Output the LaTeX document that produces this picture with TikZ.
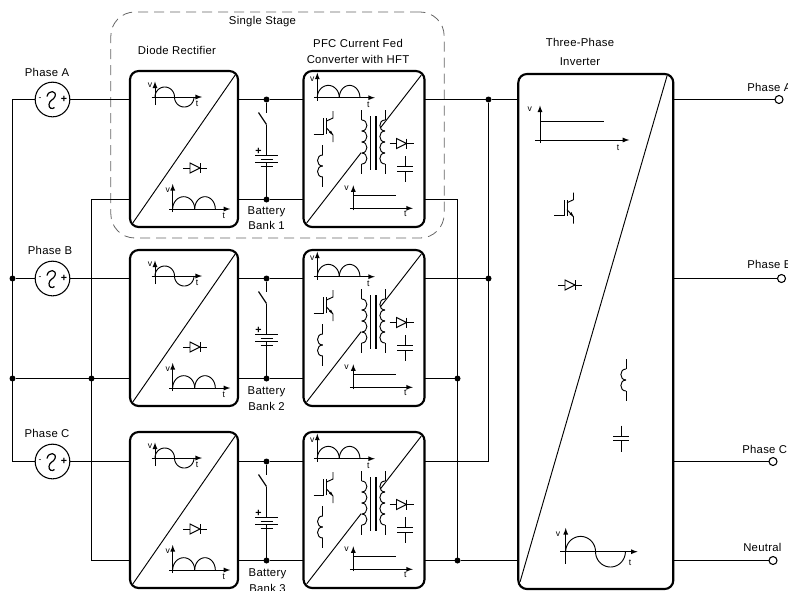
\documentclass[tikz,border=0pt]{standalone}
\usepackage{fontspec}
\setmainfont[LetterSpace=2.5]{Liberation Sans}
\tikzset{
    wire/.style={line width=0.9pt},
    sym/.style={line width=0.7pt},
    blockbox/.style={draw, line width=1.6pt, rounded corners=6.5pt, inner sep=0pt, outer sep=0pt, minimum width=81pt, minimum height=117pt},
    srcbox/.style={draw, circle, line width=0.8pt, inner sep=0pt, outer sep=0pt, minimum size=26pt},
    wiredot/.style={fill, circle, inner sep=0pt, outer sep=0pt, minimum size=4.5pt},
    termbox/.style={draw, circle, fill=white, line width=0.8pt, inner sep=0pt, outer sep=0pt, minimum size=6pt},
    stagebox/.style={draw=black!60, dashed, dash pattern=on 7.5pt off 4.5pt, line width=0.6pt, rounded corners=18pt, inner sep=0pt, minimum width=250pt, minimum height=169.5pt},
    lbl/.style={font=\fontsize{8.5}{11.6}\selectfont, inner sep=0pt, align=center},
    tiny/.style={font=\fontsize{6.5}{8}\selectfont, inner sep=0pt},
}
\newcommand{\pfcDiode}[2]{%
    \begin{scope}[shift={(#1,{#2})}, sym]
        \draw (-12,0) -- (12,0);
        \draw[fill=white] (-5,-5) -- (5,0) -- (-5,5) -- cycle;
        \draw (5,-5) -- (5,5);
    \end{scope}
}
\newcommand{\pfcCap}[2]{%
    \begin{scope}[shift={(#1,{#2})}, sym]
        \draw (0,-13) -- (0,-2.3);
        \draw (0,2.3) -- (0,13);
        \draw (-8,-2.3) -- (8,-2.3);
        \draw (-8,2.3) -- (8,2.3);
    \end{scope}
}
\newcommand{\pfcCoil}[4]{%
    \begin{scope}[shift={(#1,{#2})}, sym]
        \draw (0,-10) -- (0,0);
        \foreach \k in {1,...,#3} {
            \draw (0,{(\k-1)*11}) to[out=#4,in=#4,looseness=1.6] (0,{\k*11});
        }
        \draw (0,{#3*11}) -- (0,{#3*11+10});
    \end{scope}
}
\newcommand{\pfcIgbt}[2]{%
    \begin{scope}[shift={(#1,{#2})}, sym]
        \draw (-10,0) -- (0,0) -- (0,-16);
        \draw (3,0) -- (3,-16);
        \draw (3,-13) -- (9.5,-16) -- (9.5,-23);
        \draw (3,-6) -- (9.5,1) -- (9.5,8);
        \fill (9.5,1) -- (5.5,-1.5) -- (7.5,-3.5) -- cycle;
    \end{scope}
}
\newcommand{\pfcSinePlot}[3]{%
    \begin{scope}[shift={(#1,{#2})}, scale=#3, sym]
        \draw[-latex] (0,8) -- (0,-15.5);
        \draw[-latex] (-3.5,0) -- (47,0);
        \draw plot[domain=180:0, samples=31] ({9.75*(1+cos(\x))},{-10*sin(\x)});
        \draw plot[domain=180:0, samples=31] ({19.5+9.75*(1+cos(\x))},{10*sin(\x)});
        \node[tiny] (sv) at (-5,-11.5) {v};
        \node[tiny] (st) at (42,7) {t};
    \end{scope}
}
\newcommand{\pfcHumpPlot}[2]{%
    \begin{scope}[shift={(#1,{#2})}, sym]
        \draw[-latex] (0,3) -- (0,-25);
        \draw[-latex] (-3.5,0) -- (57.5,0);
        \draw plot[domain=180:0, samples=31] ({11*(1+cos(\x))},{-12.3*sin(\x)});
        \draw plot[domain=180:0, samples=31] ({22+10.3*(1+cos(\x))},{-12.3*sin(\x)});
        \node[tiny] (hv) at (-5,-18.5) {v};
        \node[tiny] (ht) at (51,7) {t};
    \end{scope}
}
\newcommand{\pfcDcPlot}[3]{%
    \begin{scope}[shift={(#1,{#2})}, scale=#3, sym]
        \draw[-latex] (0,2) -- (0,-23);
        \draw[-latex] (-3.5,0) -- (59.5,0);
        \draw (0,-12.5) -- (42.5,-12.5);
        \node[tiny] (dv) at (-6.8,-20.4) {v};
        \node[tiny] (dt) at (52,5) {t};
    \end{scope}
}
\newcommand{\pfcBattery}[2]{%
    \begin{scope}[shift={(#1,{#2})}, wire]
        \draw (-8,13) -- (0,25);
        \draw (-11.5,56) -- (11.5,56);
        \draw (-6,60) -- (6,60);
        \draw (-11.5,63) -- (11.5,63);
        \draw (-6,67) -- (6,67);
        \node[font=\fontsize{8}{8}\bfseries\selectfont, inner sep=0pt] (bplus) at (-8,51.5) {+};
    \end{scope}
}
\newcommand{\pfcAcWave}[2]{%
    \begin{scope}[shift={(#1,{#2})}, wire]
        \draw (-5.5,-3) .. controls (-4,-10) and (4.5,-9) .. (2.5,-3) .. controls (1,1) and (-3,0) .. (-3.5,5) .. controls (-4,9) and (0,10) .. (2,8);
        \node[tiny] (am) at (-12.5,0) {-};
        \node[font=\fontsize{8}{8}\bfseries\selectfont, inner sep=0pt] (ap) at (11.5,0) {+};
    \end{scope}
}
\begin{document}
\begin{tikzpicture}[x=0.75pt, y=-0.75pt]
    \clip (0,0) rectangle (788,590);
    \node[stagebox] (stage) at (277.5,125) {};
    \node[lbl] (stagelbl) at (262.5,22) {Single Stage};
    \node[lbl] (diodelbl) at (177,50.5) {Diode Rectifier};
    \node[lbl] (pfclbl) at (358,51.5) {PFC Current Fed\\Converter with HFT};
    \node[lbl] (invlbl) at (580,52) {Three-Phase\\[2pt]Inverter};
    \node[blockbox, minimum width=116.25pt, minimum height=386.25pt] (invert) at (595.8,331.5) {};

    % one row for each phase
    \foreach \ph/\ty/\uy/\dy/\lx/\ly/\bn in {A/71/99.5/199.5/266.5/218/1, B/250/278.5/378.5/266.5/398.5/2, C/432/461.5/560.5/267.5/580.5/3} {
        \node[srcbox] (src\ph) at (52.5,\uy) {};
        \node[blockbox] (rec\ph) at (184,{\ty+78}) {};
        \node[blockbox, minimum width=90.75pt] (pfc\ph) at (364,{\ty+78}) {};
        \node[wiredot] (up\ph) at (266.5,\uy) {};
        \node[wiredot] (dn\ph) at (266.5,\dy) {};
        \node[lbl] (bat\ph) at (\lx,\ly) {Battery\\Bank \bn};
        \draw[wire] (src\ph.east) -- (rec\ph.west |- src\ph.east);
        \draw[wire] (rec\ph.east |- up\ph) -- (up\ph) -- (pfc\ph.west |- up\ph);
        \draw[wire] (rec\ph.east |- dn\ph) -- (dn\ph) -- (pfc\ph.west |- dn\ph);
        \draw[wire] (up\ph) -- ++(0,13);
        \draw[wire] (up\ph) ++(0,25) -- ++(0,31);
        \draw[wire] (up\ph) ++(0,63) -- (dn\ph);
        \pfcAcWave{52.5}{\uy}
        \pfcBattery{266.5}{\uy}
        \draw[sym, shorten <=4pt, shorten >=4pt] (rec\ph.south west) -- (rec\ph.north east);
        \draw[sym, shorten <=4pt, shorten >=4pt] (pfc\ph.south west) -- (pfc\ph.north east);
        \pfcSinePlot{155}{\ty+26}{1}
        \pfcDiode{195}{\ty+97}
        \pfcHumpPlot{172.7}{\ty+138}
        \pfcHumpPlot{317.3}{\ty+26.7}
        \pfcIgbt{323.5}{\ty+63}
        \pfcCoil{322.7}{\ty+84}{2}{180}
        \fill[white] (361,\ty+57) rectangle (385,\ty+82);
        \pfcCoil{361.7}{\ty+49}{4}{0}
        \pfcCoil{385}{\ty+49}{4}{180}
        \draw[wire] (370.7,\ty+45) -- (370.7,\ty+99);
        \draw[wire] (376,\ty+45) -- (376,\ty+99);
        \pfcDiode{401.5}{\ty+72.5}
        \pfcCap{405}{\ty+98}
        \pfcDcPlot{353.3}{\ty+137.3}{1}
    }

    % rails on the left
    \node[wiredot] (railB) at (12.5,278.5) {};
    \node[wiredot] (railN) at (12.5,378.5) {};
    \node[wiredot] (midN) at (91.5,378.5) {};
    \draw[wire] (srcA.west) -- (srcA.west -| railB) -- (srcC.west -| railB) -- (srcC.west);
    \draw[wire] (srcB.west) -- (railB);
    \draw[wire] (railN) -- (recB.west |- railN);
    \draw[wire] (recA.west |- dnA) -- (dnA -| midN) -- (dnC -| midN) -- (recC.west |- dnC);

    % rails on the right
    \node[wiredot] (busA) at (488.5,99.5) {};
    \node[wiredot] (busB) at (488.5,278.5) {};
    \node[wiredot] (negB) at (457.5,378.5) {};
    \node[wiredot] (negC) at (457.5,560.5) {};
    \draw[wire] (pfcA.east |- upA) -- (busA) -- (invert.west |- upA);
    \draw[wire] (busA) -- (busB |- upC) -- (pfcC.east |- upC);
    \draw[wire] (pfcB.east |- upB) -- (busB);
    \draw[wire] (pfcA.east |- dnA) -- (dnA -| negB) -- (negC) -- (invert.west |- negC);
    \draw[wire] (pfcB.east |- dnB) -- (negB);
    \draw[wire] (pfcC.east |- dnC) -- (negC);

    % inverter symbols
    \coordinate (invLow) at (520,582);
    \coordinate (invHigh) at (667,76);
    \draw[sym] (invLow) -- (invHigh);
    \pfcDcPlot{540}{140}{1.5}
    \pfcIgbt{564}{215.7}
    \pfcDiode{570}{285}
    \pfcCoil{626}{369}{2}{180}
    \pfcCap{621}{438.5}
    \pfcSinePlot{565.7}{551.7}{1.53}

    % outputs
    \node[termbox] (outA) at (779,99.5) {};
    \node[termbox] (outB) at (781.5,278.5) {};
    \node[termbox] (outC) at (773,461.5) {};
    \node[termbox] (outN) at (773,560.5) {};
    \draw[wire] (invert.east |- outA) -- (outA);
    \draw[wire] (invert.east |- outB) -- (outB);
    \draw[wire] (invert.east |- outC) -- (outC);
    \draw[wire] (invert.east |- outN) -- (outN);
    \node[lbl, anchor=west] (lblOutA) at (747,87) {Phase A};
    \node[lbl, anchor=west] (lblOutB) at (747,264) {Phase B};
    \node[lbl, anchor=west] (lblOutC) at (742,449) {Phase C};
    \node[lbl, anchor=west] (lblOutN) at (743,547) {Neutral};
    \node[lbl] (lblA) at (47,72) {Phase A};
    \node[lbl] (lblB) at (50,250) {Phase B};
    \node[lbl] (lblC) at (47,433) {Phase C};
\end{tikzpicture}
\end{document}
